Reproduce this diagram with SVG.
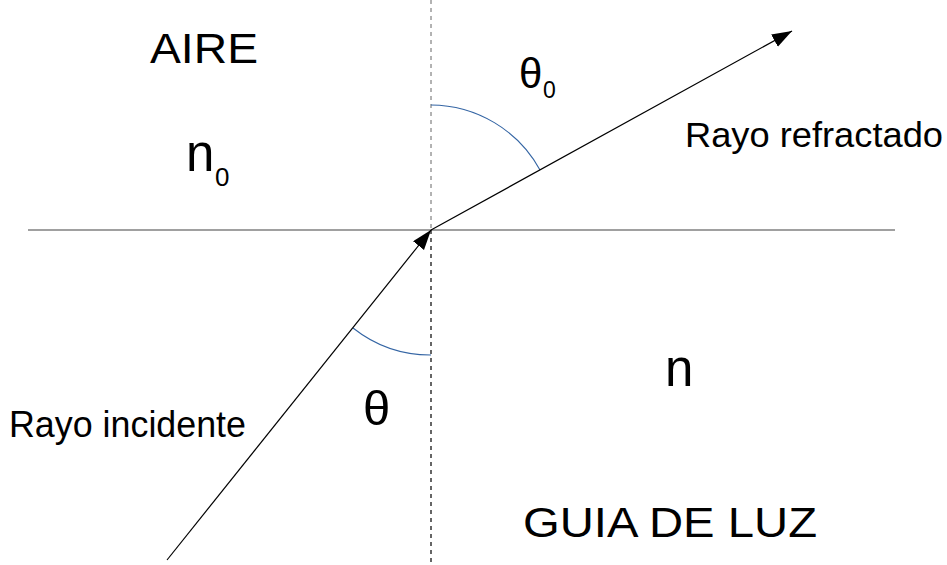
<svg xmlns="http://www.w3.org/2000/svg" width="947" height="565" viewBox="0 0 947 565">
<style>
.t{font-family:"Liberation Sans",Arial,sans-serif;fill:#000}
.ray{stroke:#000;stroke-width:1.2;fill:none}
.arc{stroke:#3465a4;stroke-width:1.1;fill:none}
</style>
<defs>
<marker id="ah" markerUnits="userSpaceOnUse" markerWidth="21" markerHeight="15" refX="20" refY="7" orient="auto" viewBox="0 0 21 15">
<path d="M0,0 L20,7 L0,14 z" fill="#000"/>
</marker>
</defs>
<rect width="947" height="565" fill="#fff"/>
<g id="connectors">
<line x1="28" y1="230" x2="895" y2="230" stroke="#808080" stroke-width="1.6"/>
<line x1="431" y1="0" x2="431" y2="230" stroke="#666" stroke-width="1" stroke-dasharray="4,4"/>
<line x1="431" y1="230" x2="431" y2="565" stroke="#000" stroke-width="1.2" stroke-dasharray="4,4"/>
<path class="arc" d="M431,105 A125,125 0 0 1 540,170"/>
<path class="arc" d="M431,355 A125,125 0 0 1 353,328"/>
<line class="ray" x1="167" y1="560" x2="431" y2="230" marker-end="url(#ah)"/>
<line class="ray" x1="431" y1="230" x2="792" y2="31" marker-end="url(#ah)"/>
</g>
<g id="aire"><text class="t" x="150" y="63" font-size="43" textLength="108" lengthAdjust="spacingAndGlyphs">AIRE</text></g>
<g id="n0"><text class="t" x="186" y="171" font-size="51">n</text><text class="t" x="215" y="186" font-size="26">0</text></g>
<g id="theta0"><text class="t" x="519" y="88" font-size="42">θ</text><text class="t" x="543" y="98" font-size="23">0</text></g>
<g id="refractado"><text class="t" x="685" y="147" font-size="35" textLength="258" lengthAdjust="spacingAndGlyphs">Rayo refractado</text></g>
<g id="n"><text class="t" x="665" y="386" font-size="51">n</text></g>
<g id="theta"><text class="t" x="363" y="425" font-size="49">θ</text></g>
<g id="incidente"><text class="t" x="9" y="437" font-size="36" textLength="237" lengthAdjust="spacingAndGlyphs">Rayo incidente</text></g>
<g id="guia"><text class="t" x="523" y="537" font-size="42" textLength="294" lengthAdjust="spacingAndGlyphs">GUIA DE LUZ</text></g>
</svg>
